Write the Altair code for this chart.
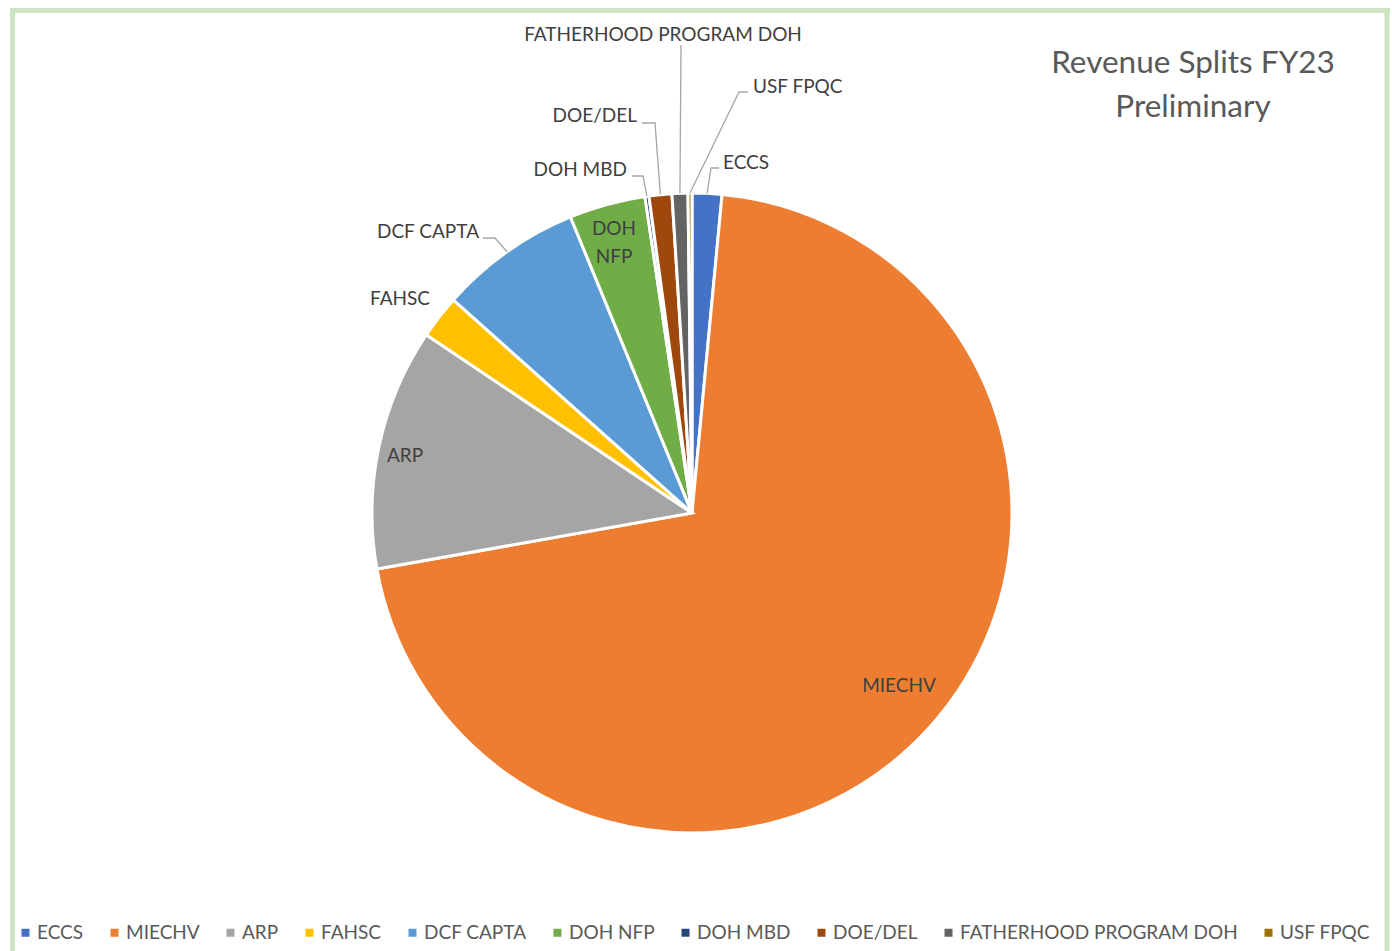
import math
import altair as alt
import pandas as pd

# ---------------- data ----------------
categories = ["ECCS", "MIECHV", "ARP", "FAHSC", "DCF CAPTA", "DOH NFP",
              "DOH MBD", "DOE/DEL", "FATHERHOOD PROGRAM DOH", "USF FPQC"]
shares = [1.5, 70.7, 12.2, 2.2, 7.2, 3.85, 0.2, 1.15, 0.8, 0.2]
colors = ["#4472C4", "#ED7D31", "#A5A5A5", "#FFC000", "#5B9BD5", "#70AD47",
          "#264478", "#9E480E", "#636363", "#997300"]

# ---------------- layout ----------------
W, H = 1392, 951
CX, CY, R = 692, 513, 320
FONT = "Lato"
TXT = "#404040"
LEADER = "#a6a6a6"
FRAME = "#cde4c3"

df = pd.DataFrame({"cat": categories, "val": shares, "idx": list(range(len(categories)))})

# mid angle (clockwise from north) of each slice, derived from data
total = sum(shares)
mid = {}
acc = 0.0
for c, v in zip(categories, shares):
    mid[c] = (acc + v / 2) / total * 2 * math.pi
    acc += v

def edge(c, r=R):
    a = mid[c]
    return CX + r * math.sin(a), CY - r * math.cos(a)

# label placement (offsets from pie centre): text position, alignment, leader elbow & end
label_layout = {
    "ECCS":                   dict(t=(31, -350), align="left",   elbow=(19, -345), end=(27, -345)),
    "USF FPQC":               dict(t=(61, -426), align="left",   elbow=(47, -421), end=(56, -421)),
    "FATHERHOOD PROGRAM DOH": dict(t=(-29, -478), align="center", elbow=(-11, -468), end=(-11, -468)),
    "DOE/DEL":                dict(t=(-55, -397), align="right",  elbow=(-37, -390), end=(-50, -390)),
    "DOH MBD":                dict(t=(-65, -343), align="right",  elbow=(-49, -337), end=(-60, -337)),
    "DCF CAPTA":              dict(t=(-213, -281), align="right", elbow=(-197, -275), end=(-209, -275)),
    "FAHSC":                  dict(t=(-262, -214), align="right", elbow=None, end=None),
    "ARP":                    dict(t=(-287, -57), align="center", elbow=None, end=None),
    "MIECHV":                 dict(t=(207, 173), align="center", elbow=None, end=None),
}

text_rows = []
for c, L in label_layout.items():
    text_rows.append({"label": c, "x": CX + L["t"][0], "y": CY + L["t"][1], "align": L["align"]})
# DOH NFP inside, on two lines
text_rows.append({"label": "DOH", "x": CX - 78, "y": CY - 284, "align": "center"})
text_rows.append({"label": "NFP", "x": CX - 78, "y": CY - 256, "align": "center"})
tdf = pd.DataFrame(text_rows)

line_rows = []
for c, L in label_layout.items():
    if L["elbow"] is None:
        continue
    ex, ey = edge(c)
    pts = [(ex, ey), (CX + L["elbow"][0], CY + L["elbow"][1]), (CX + L["end"][0], CY + L["end"][1])]
    for k, (px, py) in enumerate(pts):
        line_rows.append({"label": c, "k": k, "x": px, "y": py})
ldf = pd.DataFrame(line_rows)

xs = alt.Scale(domain=[0, W], nice=False, zero=False)
ys = alt.Scale(domain=[0, H], nice=False, zero=False, reverse=True)

pie = alt.Chart(df).mark_arc(radius=R, stroke="white", strokeWidth=3).encode(
    theta=alt.Theta("val:Q", stack=True),
    color=alt.Color("cat:N", sort=categories,
                    scale=alt.Scale(domain=categories, range=colors),
                    legend=alt.Legend(title=None, orient="none", direction="horizontal",
                                      legendX=16, legendY=923, columns=10,
                                      symbolType="square", symbolSize=64, symbolStrokeWidth=0,
                                      labelFont=FONT, labelFontSize=19, labelColor="#595959",
                                      labelOffset=2, columnPadding=21, padding=0,
                                      labelLimit=400)),
    order=alt.Order("idx:Q", sort="ascending"),
    x=alt.value(CX), y=alt.value(CY),
)

leaders = alt.Chart(ldf).mark_line(color=LEADER, strokeWidth=1.3).encode(
    x=alt.X("x:Q", scale=xs, axis=None),
    y=alt.Y("y:Q", scale=ys, axis=None),
    detail="label:N",
    order="k:Q",
)

def text_layer(align):
    sub = tdf[tdf["align"] == align]
    return alt.Chart(sub).mark_text(font=FONT, fontSize=19, color=TXT, align=align,
                                    baseline="middle").encode(
        x=alt.X("x:Q", scale=xs, axis=None),
        y=alt.Y("y:Q", scale=ys, axis=None),
        text="label:N",
    )

title1 = alt.Chart(pd.DataFrame({"t": ["Revenue Splits FY23"]})).mark_text(
    font=FONT, fontSize=31.5, color="#595959", align="center", baseline="alphabetic"
).encode(x=alt.value(1193), y=alt.value(73), text="t:N")
title2 = alt.Chart(pd.DataFrame({"t": ["Preliminary"]})).mark_text(
    font=FONT, fontSize=31.5, color="#595959", align="center", baseline="alphabetic"
).encode(x=alt.value(1193), y=alt.value(117), text="t:N")

frame_l = alt.Chart(pd.DataFrame({"a": [0]})).mark_rule(color=FRAME, strokeWidth=5).encode(
    x=alt.value(12.5), y=alt.value(8), y2=alt.value(H))
frame_t = alt.Chart(pd.DataFrame({"a": [0]})).mark_rule(color=FRAME, strokeWidth=5).encode(
    x=alt.value(10), x2=alt.value(1390), y=alt.value(10.5))
frame_r = alt.Chart(pd.DataFrame({"a": [0]})).mark_rule(color=FRAME, strokeWidth=5).encode(
    x=alt.value(1387), y=alt.value(8), y2=alt.value(H))

chart = alt.layer(
    frame_l, frame_t, frame_r, pie, leaders,
    text_layer("left"), text_layer("right"), text_layer("center"),
    title1, title2,
).properties(
    width=W, height=H, padding=0, autosize=alt.AutoSizeParams(type="none"),
    background="white",
).configure_view(stroke=None)

chart.save("out.html", embed_options={"renderer": "svg", "actions": False})
